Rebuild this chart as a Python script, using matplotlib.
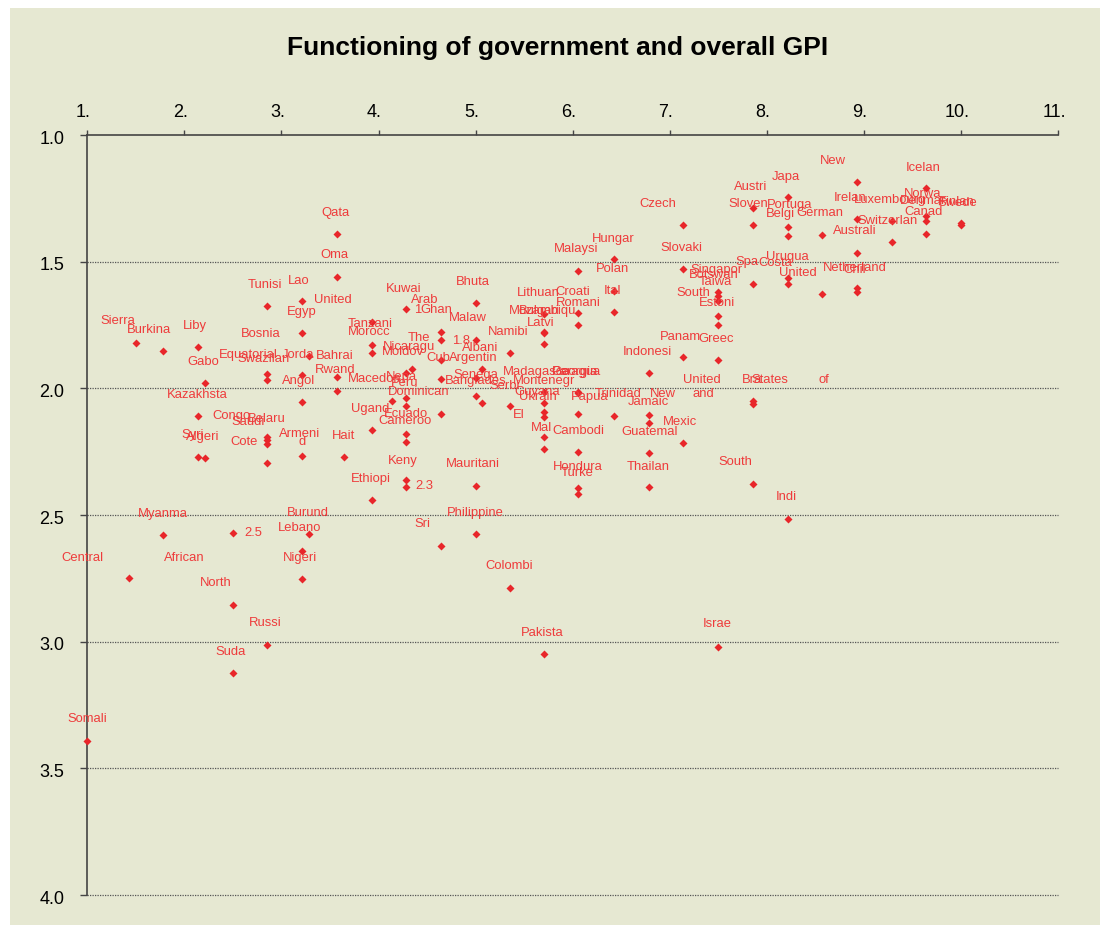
import matplotlib
matplotlib.use("Agg")
import matplotlib.pyplot as plt
from matplotlib.patches import Rectangle
from matplotlib.transforms import ScaledTranslation

# ---------------- data ----------------
countries = [
    "Somalia", "Central African Republic", "Sierra Leone", "Burkina Faso", "Myanmar",
    "Libya", "Gabon", "Kazakhstan", "Syria", "Algeria", "North Korea", "(2.5)", "Sudan",
    "Tunisia", "Equatorial Guinea", "Swaziland", "Congo", "Belarus", "Saudi Arabia",
    "Cote d'Ivoire", "Russia", "Laos", "Egypt", "Jordan", "Angola", "Armenia", "Lebanon",
    "Nigeria", "Bosnia and Herzegovina", "Burundi", "Qatar", "Oman", "Bahrain", "Rwanda",
    "Haiti", "United Arab Emirates", "Tanzania", "Morocco", "Uganda", "Ethiopia",
    "Macedonia", "Kuwait", "Moldova", "Nepal", "Peru", "Ecuador", "Cameroon", "Kenya",
    "(2.3)", "Nicaragua", "Ghana", "(1.8)", "The Gambia", "Cuba", "Dominican Republic",
    "Sri Lanka", "Bhutan", "Malawi", "Argentina", "Senegal", "Mauritania", "Philippines",
    "Albania", "Bangladesh", "Namibia", "Serbia", "Colombia", "Lithuania", "Bulgaria",
    "Mozambique", "Latvia", "Madagascar", "Montenegro", "Guyana", "Ukraine", "El Salvador",
    "Mali", "Pakistan", "Malaysia", "Croatia", "Romania", "Georgia", "Paraguay",
    "Papua New Guinea", "Cambodia", "Honduras", "Turkey", "Hungary", "Poland", "Italy",
    "Trinidad and Tobago", "Indonesia", "New", "Jamaica", "Guatemala", "Thailand",
    "Czech Republic", "Slovakia", "Panama", "Mexico", "Singapore", "Botswana", "Taiwan",
    "South Korea", "Estonia", "Greece", "Israel", "Austria", "Slovenia", "Spain", "Brazil",
    "United States of America", "South Africa", "Japan", "Portugal", "Belgium", "Uruguay",
    "Costa Rica", "India", "Germany", "United Kingdom", "New Zealand", "Ireland",
    "Australia", "Netherlands", "Chile", "Luxembourg", "Switzerland", "Iceland", "Norway",
    "Denmark", "Canada", "Finland", "Sweden",
]

gov = [
    1.00, 1.43, 1.50, 1.78, 1.78,
    2.14, 2.21, 2.14, 2.14, 2.21, 2.50, 2.50, 2.50,
    2.85, 2.85, 2.85, 2.85, 2.85, 2.85,
    2.85, 2.85, 3.21, 3.21, 3.21, 3.21, 3.21, 3.21,
    3.21, 3.28, 3.28, 3.57, 3.57, 3.57, 3.57,
    3.64, 3.93, 3.93, 3.93, 3.93, 3.93,
    4.14, 4.28, 4.28, 4.28, 4.28, 4.28, 4.28, 4.28,
    4.28, 4.35, 4.64, 4.64, 4.64, 4.64, 4.64,
    4.64, 5.00, 5.00, 5.00, 5.00, 5.00, 5.00,
    5.07, 5.07, 5.35, 5.35, 5.35, 5.71, 5.71,
    5.71, 5.71, 5.71, 5.71, 5.71, 5.71, 5.71,
    5.71, 5.71, 6.06, 6.06, 6.06, 6.06, 6.06,
    6.06, 6.06, 6.06, 6.06, 6.43, 6.43, 6.43,
    6.43, 6.79, 6.79, 6.79, 6.79, 6.79,
    7.14, 7.14, 7.14, 7.14, 7.50, 7.50, 7.50,
    7.50, 7.50, 7.50, 7.50, 7.86, 7.86, 7.86, 7.86,
    7.86, 7.86, 8.22, 8.22, 8.22, 8.22,
    8.22, 8.22, 8.57, 8.57, 8.93, 8.93,
    8.93, 8.93, 8.93, 9.29, 9.29, 9.64, 9.64,
    9.64, 9.64, 10.00, 10.00,
]

gpi = [
    3.392, 2.749, 1.821, 1.853, 2.579,
    1.837, 1.979, 2.109, 2.271, 2.275, 2.856, 2.571, 3.124,
    1.675, 1.944, 1.967, 2.192, 2.204, 2.220,
    2.295, 3.013, 1.655, 1.782, 1.948, 2.054, 2.267, 2.642,
    2.753, 1.872, 2.575, 1.390, 1.561, 1.955, 2.011,
    2.271, 1.738, 1.829, 1.861, 2.165, 2.441,
    2.050, 1.687, 1.940, 2.038, 2.070, 2.180, 2.212, 2.362,
    2.390, 1.924, 1.778, 1.809, 1.888, 1.963, 2.101,
    2.623, 1.663, 1.809, 1.959, 2.030, 2.386, 2.575,
    1.924, 2.058, 1.861, 2.070, 2.788, 1.707, 1.778,
    1.782, 1.825, 2.015, 2.058, 2.094, 2.113, 2.192,
    2.240, 3.049, 1.537, 1.703, 1.750, 2.015, 2.019,
    2.101, 2.251, 2.394, 2.417, 1.490, 1.616, 1.699,
    2.109, 1.940, 2.105, 2.137, 2.255, 2.390,
    1.355, 1.529, 1.876, 2.216, 1.620, 1.636, 1.655,
    1.715, 1.750, 1.888, 3.021, 1.288, 1.355, 1.588, 2.050,
    2.062, 2.378, 1.245, 1.363, 1.399, 1.565,
    1.588, 2.516, 1.395, 1.628, 1.186, 1.332,
    1.466, 1.604, 1.620, 1.340, 1.422, 1.209, 1.320,
    1.340, 1.391, 1.347, 1.355,
]

x_ticks = [1, 2, 3, 4, 5, 6, 7, 8, 9, 10, 11]
x_tick_labels = ["1.", "2.", "3.", "4.", "5.", "6.", "7.", "8.", "9.", "10.", "11."]
y_ticks = [1.0, 1.5, 2.0, 2.5, 3.0, 3.5, 4.0]
y_tick_labels = ["1.0", "1.5", "2.0", "2.5", "3.0", "3.5", "4.0"]
title = "Functioning of government and overall GPI"

# ---------------- label layout (visible text, pixel offset from its point) ----------------
label_layout = [
    ("Somalia", "Somali", 0, 22), ("Central African Republic", "Central", -47, 20),
    ("Central African Republic", "African", 55, 20), ("Sierra Leone", "Sierra", -18, 22),
    ("Burkina Faso", "Burkina", -14, 21), ("Myanmar", "Myanma", 0, 21),
    ("Libya", "Liby", -3, 21), ("Gabon", "Gabo", -2, 21), ("Kazakhstan", "Kazakhsta", -1, 21),
    ("Syria", "Syri", -5, 22), ("Algeria", "Algeri", -2, 21), ("North Korea", "North", -17, 22),
    ("(2.5)", "2.5", 20, 0), ("Sudan", "Suda", -2, 21), ("Tunisia", "Tunisi", -2, 21),
    ("Equatorial Guinea", "Equatorial", -19, 19), ("Swaziland", "Swazilan", -3, 21),
    ("Congo", "Congo", -35, 21), ("Belarus", "Belaru", 0, 21), ("Saudi Arabia", "Saudi", -19, 22),
    ("Cote d'Ivoire", "Cote", -23, 21), ("Russia", "Russi", -2, 22), ("Laos", "Lao", -3, 20),
    ("Egypt", "Egyp", 0, 21), ("Jordan", "Jorda", -4, 20), ("Angola", "Angol", -3, 21),
    ("Armenia", "Armeni", -2, 22), ("Armenia", "d", 0, 14), ("Lebanon", "Lebano", -2, 23),
    ("Nigeria", "Nigeri", -2, 21), ("Bosnia and Herzegovina", "Bosnia", -48, 22),
    ("Burundi", "Burund", -1, 21), ("Qatar", "Qata", -1, 21), ("Oman", "Oma", -2, 22),
    ("Bahrain", "Bahrai", -2, 21), ("Rwanda", "Rwand", -2, 21), ("Haiti", "Hait", 0, 21),
    ("United Arab Emirates", "United", -39, 22), ("United Arab Emirates", "Arab", 53, 22),
    ("Tanzania", "Tanzani", -2, 21), ("Morocco", "Morocc", -3, 21), ("Uganda", "Ugand", -2, 21),
    ("Ethiopia", "Ethiopi", -1, 21), ("Macedonia", "Macedon", -17, 22), ("Kuwait", "Kuwai", -2, 20),
    ("Moldova", "Moldov", -3, 21), ("Nepal", "Nepa", -4, 21), ("Peru", "Peru", -1, 23),
    ("Ecuador", "Ecuado", 0, 20), ("Cameroon", "Cameroo", -1, 21), ("Kenya", "Keny", -3, 19),
    ("(2.3)", "2.3", 19, 1), ("Nicaragua", "Nicaragu", -3, 22), ("Ghana", "Ghan", -4, 22),
    ("Ghana", "1", -23, 22), ("(1.8)", "1.8", 20, -1), ("The Gambia", "The", -22, 22),
    ("Cuba", "Cub", -2, 21), ("Dominican Republic", "Dominican", -22, 22),
    ("Sri Lanka", "Sri", -18, 22), ("Bhutan", "Bhuta", -3, 21), ("Malawi", "Malaw", -8, 22),
    ("Argentina", "Argentin", -2, 20), ("Senegal", "Senega", 0, 21),
    ("Mauritania", "Mauritani", -3, 22), ("Philippines", "Philippine", 0, 21),
    ("Albania", "Albani", -2, 21), ("Bangladesh", "Banglades", -7, 22),
    ("Namibia", "Namibi", -1, 21), ("Serbia", "Serbi", -5, 20), ("Colombia", "Colombi", 0, 22),
    ("Lithuania", "Lithuan", -6, 21), ("Bulgaria", "Bulgari", -5, 21),
    ("Mozambique", "Mozambiqu", -2, 22), ("Latvia", "Latvi", -4, 21),
    ("Madagascar", "Madagasca", -8, 20), ("Montenegro", "Montenegr", 0, 22),
    ("Guyana", "Guyana", -7, 20), ("Ukraine", "Ukrain", -7, 20), ("El Salvador", "El", -26, 22),
    ("Mali", "Mal", -3, 21), ("Pakistan", "Pakista", -2, 21), ("Malaysia", "Malaysi", -2, 22),
    ("Croatia", "Croati", -6, 21), ("Romania", "Romani", 0, 22), ("Georgia", "Georgia", -4, 20),
    ("Paraguay", "Paragua", -2, 21), ("Papua New Guinea", "Papua", 11, 17),
    ("Cambodia", "Cambodi", 0, 21), ("Honduras", "Hondura", -1, 21), ("Turkey", "Turke", -1, 21),
    ("Hungary", "Hungar", -1, 20), ("Poland", "Polan", -2, 22), ("Italy", "Ital", -2, 21),
    ("Trinidad and Tobago", "Trinidad", 4, 22), ("Trinidad and Tobago", "and", 89, 22),
    ("Indonesia", "Indonesi", -2, 21), ("New", "New", 14, 21), ("Jamaica", "Jamaic", -1, 21),
    ("Guatemala", "Guatemal", 0, 21), ("Thailand", "Thailan", -1, 20),
    ("Czech Republic", "Czech", -25, 21), ("Slovakia", "Slovaki", -2, 21),
    ("Panama", "Panam", -3, 20), ("Mexico", "Mexic", -3, 21), ("Singapore", "Singapor", -2, 22),
    ("Botswana", "Botswan", -5, 21), ("Taiwan", "Taiwa", -3, 19), ("South Korea", "South", -25, 23),
    ("Estonia", "Estoni", -1, 22), ("Greece", "Greec", -2, 21), ("Israel", "Israe", -1, 23),
    ("Austria", "Austri", -3, 21), ("Slovenia", "Sloven", -5, 21), ("Spain", "Spa", -6, 22),
    ("Brazil", "Bra", -1, 21), ("United States of America", "United", -51, 24),
    ("United States of America", "States", 17, 24), ("United States of America", "of", 71, 24),
    ("South Africa", "South", -18, 22), ("Japan", "Japa", -2, 20), ("Portugal", "Portuga", 1, 22),
    ("Belgium", "Belgi", -8, 22), ("Uruguay", "Urugua", -1, 21), ("Costa Rica", "Costa", -13, 21),
    ("India", "Indi", -2, 22), ("Germany", "German", -2, 22), ("United Kingdom", "United", -24, 21),
    ("New Zealand", "New", -24, 21), ("Ireland", "Irelan", -7, 21), ("Australia", "Australi", -2, 22),
    ("Netherlands", "Netherland", -2, 20), ("Chile", "Chil", -2, 22),
    ("Luxembourg", "Luxembourg", -2, 21), ("Switzerland", "Switzerlan", -4, 21),
    ("Iceland", "Icelan", -3, 20), ("Norway", "Norwa", -3, 22), ("Denmark", "Denmar", -3, 20),
    ("Canada", "Canad", -2, 22), ("Finland", "Finlan", -4, 21), ("Sweden", "Swede", -4, 22),
]

# ---------------- style ----------------
BG = "#e6e8d2"
PT = "#e8262a"
TXT = "#ee3b3b"
AXC = "#444444"
FONT = "Liberation Sans"

W, H = 1109, 933
fig = plt.figure(figsize=(W / 100, H / 100), dpi=100)
fig.patch.set_facecolor("white")
fig.add_artist(Rectangle((10 / W, 8 / H), 1090 / W, 917 / H, transform=fig.transFigure,
                         facecolor=BG, edgecolor="none", zorder=-10))

ax = fig.add_axes([87.3 / W, (H - 895) / H, (1058 - 87.3) / W, (895 - 135) / H])
ax.set_facecolor("none")
ax.set_xlim(x_ticks[0], x_ticks[-1])
ax.set_ylim(y_ticks[-1], y_ticks[0])

ax.xaxis.tick_top()
ax.set_xticks(x_ticks)
ax.set_xticklabels(x_tick_labels, fontsize=13, family=FONT)
ax.set_yticks(y_ticks)
ax.set_yticklabels(y_tick_labels, fontsize=13, family=FONT)
ax.tick_params(axis="x", direction="out", length=3.6, width=1, color=AXC, pad=6.5)
ax.tick_params(axis="y", direction="out", length=5, width=1, color=AXC, pad=11.5)

# x labels sit slightly left of their ticks, as in the source
shift = ScaledTranslation(-4 / 100, 0, fig.dpi_scale_trans)
for lab in ax.get_xticklabels():
    lab.set_transform(lab.get_transform() + shift)
yshift = ScaledTranslation(0, -2 / 100, fig.dpi_scale_trans)
for lab in ax.get_yticklabels():
    lab.set_transform(lab.get_transform() + yshift)

for s in ("right", "bottom"):
    ax.spines[s].set_visible(False)
for s in ("top", "left"):
    ax.spines[s].set_color(AXC)
    ax.spines[s].set_linewidth(1.2)

for yv in y_ticks[1:]:
    ax.axhline(yv, color="#555555", lw=0.9, ls=(0, (1, 1)), zorder=1, clip_on=False)

ax.plot(gov, gpi, "D", ms=3.9, color=PT, mec="none", clip_on=False, zorder=3)

idx = {c: i for i, c in enumerate(countries)}
for name, txt, dx, dy in label_layout:
    i = idx[name]
    ax.annotate(txt, (gov[i], gpi[i]), xytext=(dx, dy), textcoords="offset pixels",
                ha="center", va="center", fontsize=9.4, color=TXT, family=FONT,
                zorder=4, annotation_clip=False)

fig.text(558 / W, 1 - 48 / H, title, ha="center", va="center", fontsize=19,
         fontweight="bold", family=FONT, color="black")

fig.savefig("out.png", dpi=100, facecolor=fig.get_facecolor())
